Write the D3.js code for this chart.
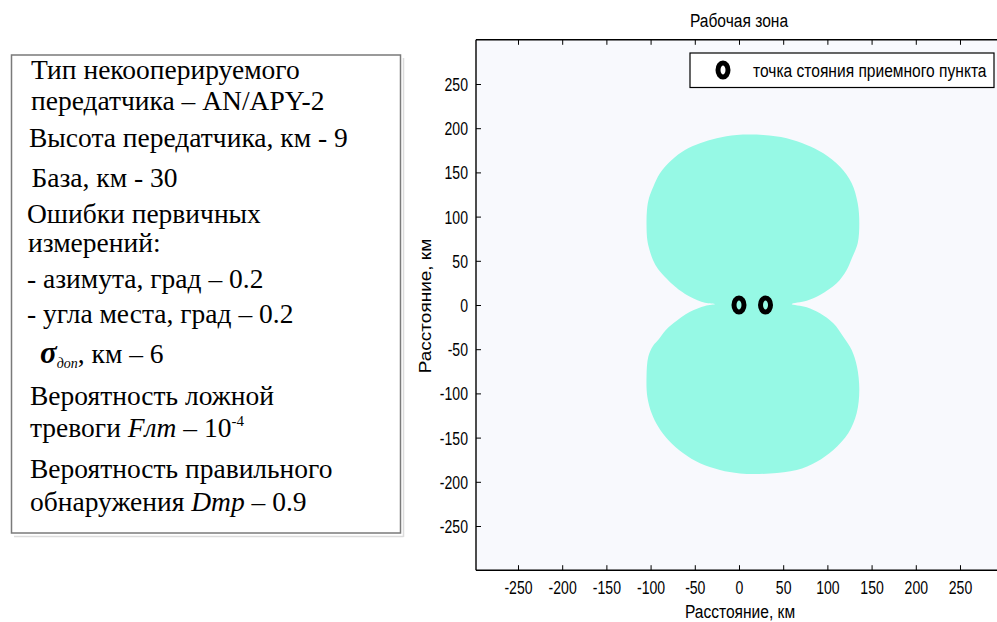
<!DOCTYPE html>
<html><head><meta charset="utf-8">
<script src="https://cdn.jsdelivr.net/npm/d3@7"></script>
<style>body{margin:0;background:#fff}svg{display:block}</style>
</head><body>
<script>
// ---------- data ----------
const chartTitle = "Рабочая зона";
const xLabel = "Расстояние, км";
const yLabel = "Расстояние, км";
const legendLabel = "точка стояния приемного пункта";
const xTicks = [-250, -200, -150, -100, -50, 0, 50, 100, 150, 200, 250];
const yTicks = [-250, -200, -150, -100, -50, 0, 50, 100, 150, 200, 250];
// boundary of the working zone (km)
const zoneX = [-27.1, -38.5, -55.4, -66.7, -74.3, -83.7, -91.6, -97.3, -101.2, -103.7, -104.6, -104.1, -101.8, -96.9, -89.4, -76.1, -61.1, -44.1, -25.2, -2.6,
  27.5, 54.0, 76.6, 95.4, 114.3, 127.5, 134.3, 136.1, 134.3, 127.8, 121.8, 110.5, 91.6, 76.6, 59.6,
  76.6, 91.6, 106.7, 118.0, 127.5, 133.5, 136.1, 133.1, 123.6, 106.7, 87.9, 65.3, 35.1, 1.1,
  -21.5, -44.1, -63.0, -80.0, -91.3, -98.8, -103.7, -104.6, -102.6, -97.3, -90.5, -83.7, -74.3, -55.4, -38.5];
const zoneY = [1.1, 2.6, 9.4, 16.4, 22.6, 31.7, 40.7, 50.9, 62.2, 73.5, 90.5, 107.5, 121.0, 133.8, 149.0, 164.0, 175.3, 182.9, 188.6, 192.3,
  192.3, 188.6, 181.0, 171.6, 156.4, 137.7, 115.0, 92.4, 69.8, 53.2, 39.6, 24.5, 11.3, 4.9, 1.1,
  -2.6, -9.4, -20.7, -35.9, -50.9, -69.8, -96.2, -122.5, -145.1, -164.0, -177.3, -186.7, -190.6, -190.6,
  -186.7, -179.1, -167.8, -152.7, -137.7, -122.5, -103.7, -81.1, -58.5, -46.4, -38.5, -29.4, -20.7, -7.6, -1.1];
const receiverX = [0, 30];
const receiverY = [0, 0];
// parameter box text: each line is a list of [text, style]
const infoLines = [
  [["Тип некооперируемого"]],
  [["передатчика – AN/APY-2"]],
  [["Высота передатчика, км - 9"]],
  [["База, км - 30"]],
  [["Ошибки первичных"]],
  [["измерений:"]],
  [["- азимута, град – 0.2"]],
  [["- угла места, град – 0.2"]],
  [["σ", "sigma"], ["доп", "sub"], [", км – 6", "after-sub"]],
  [["Вероятность ложной"]],
  [["тревоги "], ["Fлт", "it"], [" – 10"], ["-4", "sup"]],
  [["Вероятность правильного"]],
  [["обнаружения "], ["Dтр", "it"], [" – 0.9"]]
];

// ---------- layout ----------
const W = 997, H = 622;
const SQ = 0.82;   // horizontal squeeze of label text
const SQT = 0.76;  // horizontal squeeze of tick text
const svg = d3.select("body").append("svg").attr("width", W).attr("height", H);
const k = 0.884;
const x = d3.scaleLinear().domain([-297.5, 302.5]).range([476, 476 + 600 * k]);
const y = d3.scaleLinear().domain([-300, 300]).range([305 + 300 * k, 305 - 300 * k]);
const sans = "'Liberation Sans', Arial, sans-serif";
const serif = "'Liberation Serif', 'Times New Roman', serif";

// ----- info box -----
const infoPos = [[31, 78.5], [31, 110], [29, 146.5], [31.5, 186.5], [27, 223], [28, 252], [27, 288], [27, 323],
  [40, 363], [30, 405], [30, 436.5], [30, 478], [30, 511]];
svg.append("line").attr("x1", 403.5).attr("x2", 403.5).attr("y1", 58).attr("y2", 537).attr("stroke", "#dcdcdc").attr("stroke-width", 1.5);
svg.append("line").attr("x1", 14).attr("x2", 403.5).attr("y1", 536.5).attr("y2", 536.5).attr("stroke", "#dcdcdc").attr("stroke-width", 1.5);
svg.append("rect").attr("x", 11.5).attr("y", 55).attr("width", 389).attr("height", 478)
  .attr("fill", "#fff").attr("stroke", "#7a7a7a").attr("stroke-width", 1.5);
infoLines.forEach((segs, i) => {
  const t = svg.append("text").attr("x", infoPos[i][0]).attr("y", infoPos[i][1])
    .attr("font-family", serif).attr("font-size", 27.5).attr("fill", "#000");
  segs.forEach(([s, st]) => {
    const ts = t.append("tspan").text(s);
    if (st === "sigma") ts.attr("font-style", "italic").attr("font-weight", "bold").attr("font-size", 31);
    if (st === "sub") ts.attr("font-style", "italic").attr("font-size", 14).attr("dy", 5);
    if (st === "after-sub") ts.attr("dy", -5);
    if (st === "it") ts.attr("font-style", "italic");
    if (st === "sup") ts.attr("font-size", 15).attr("dy", -11);
  });
});

// ----- plot area -----
const px0 = x.range()[0], py0 = y.range()[1], py1 = y.range()[0];
svg.append("defs").append("clipPath").attr("id", "clip").append("rect")
  .attr("x", px0).attr("y", py0).attr("width", W - px0 + 20).attr("height", py1 - py0);
svg.append("rect").attr("x", px0).attr("y", py0).attr("width", W - px0 + 20).attr("height", py1 - py0).attr("fill", "#f8f9fd");

const zone = d3.line().x((d, i) => x(zoneX[i])).y((d, i) => y(zoneY[i])).curve(d3.curveCatmullRomClosed.alpha(0.5));
svg.append("path").attr("clip-path", "url(#clip)").attr("d", zone(zoneX)).attr("fill", "#96f9e5");

svg.append("g").selectAll("ellipse").data(receiverX).join("ellipse")
  .attr("cx", (d) => x(d)).attr("cy", (d, i) => y(receiverY[i])).attr("rx", 5).attr("ry", 7)
  .attr("fill", "none").attr("stroke", "#000").attr("stroke-width", 5);

// axes
const fmt = (d) => String(d);
const gx = svg.append("g").attr("transform", `translate(0,${py1})`)
  .call(d3.axisBottom(x).tickValues(xTicks).tickSizeInner(-5).tickSizeOuter(0).tickFormat(fmt));
const gxt = svg.append("g").attr("transform", `translate(0,${py0})`)
  .call(d3.axisTop(x).tickValues(xTicks).tickSizeInner(-5).tickSizeOuter(0).tickFormat(""));
const gy = svg.append("g").attr("transform", `translate(${px0},0)`)
  .call(d3.axisLeft(y).tickValues(yTicks).tickSizeInner(-5).tickSizeOuter(0).tickFormat(fmt));
[gx, gxt, gy].forEach(g => {
  g.select(".domain").remove();
  g.selectAll(".tick line").attr("stroke", "#000").attr("stroke-width", 1);
  g.selectAll("text").attr("font-family", sans).attr("font-size", 18.5).attr("fill", "#000");
});
gx.selectAll(".tick text").attr("y", 0).attr("dy", null).attr("transform", `translate(0,24) scale(${SQT},1)`);
gy.selectAll(".tick text").attr("x", 0).attr("dy", null).attr("text-anchor", "end")
  .attr("transform", `translate(-8,6.5) scale(${SQT},1)`);

// frame
const frame = svg.append("g").attr("stroke", "#000").attr("stroke-width", 1.4);
frame.append("line").attr("x1", px0).attr("x2", W + 5).attr("y1", py0).attr("y2", py0);
frame.append("line").attr("x1", px0).attr("x2", W + 5).attr("y1", py1).attr("y2", py1);
frame.append("line").attr("x1", px0).attr("x2", px0).attr("y1", py0).attr("y2", py1);

// labels
function sq(txt, tx, ty, anchor, size, rot) {
  return svg.append("text").text(txt).attr("font-family", sans).attr("font-size", size).attr("fill", "#000")
    .attr("text-anchor", anchor)
    .attr("transform", rot ? `translate(${tx},${ty}) rotate(-90) scale(1,${SQ})` : `translate(${tx},${ty}) scale(${SQ},1)`);
}
sq(chartTitle, 739, 26.5, "middle", 19);
sq(xLabel, 740, 618, "middle", 19);
sq(yLabel, 431, 306, "middle", 19, true);

// legend
svg.append("rect").attr("x", 690).attr("y", 53).attr("width", 304).attr("height", 34.5)
  .attr("fill", "#fff").attr("stroke", "#000").attr("stroke-width", 1.2);
svg.append("ellipse").attr("cx", 723).attr("cy", 70).attr("rx", 5).attr("ry", 7)
  .attr("fill", "none").attr("stroke", "#000").attr("stroke-width", 5);
sq(legendLabel, 753, 76.5, "start", 19);
</script>
</body></html>
